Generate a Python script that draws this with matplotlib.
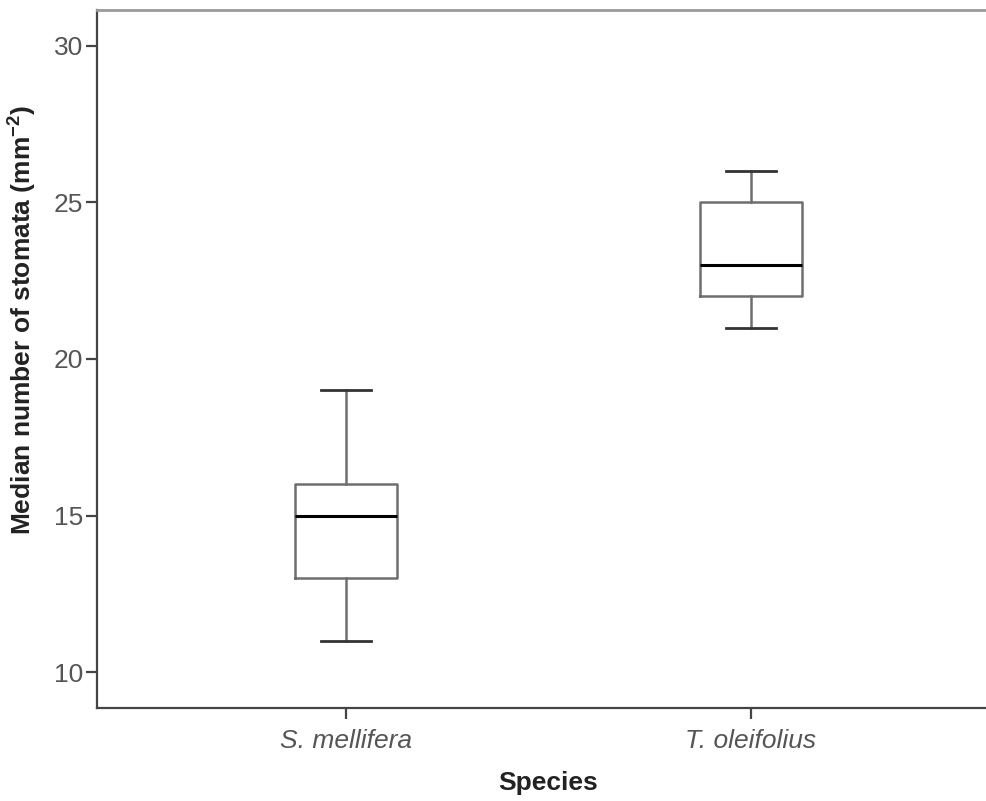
import matplotlib
matplotlib.use('Agg')
import matplotlib.pyplot as plt

# box plot summary values
species = ['S. mellifera', 'T. oleifolius']
whisker_low = [11, 21]
q1 = [13, 22]
median = [15, 23]
q3 = [16, 25]
whisker_high = [19, 26]

plt.rcParams['font.family'] = ['Liberation Sans', 'DejaVu Sans']
plt.rcParams['mathtext.fontset'] = 'custom'
plt.rcParams['mathtext.rm'] = 'Liberation Sans'
plt.rcParams['mathtext.bf'] = 'Liberation Sans:bold'

fig = plt.figure(figsize=(9.87, 8.01), dpi=100)
ax = fig.add_axes([97 / 987, 93 / 801, 1 - 97 / 987, (708 - 10) / 801])

stats = []
for i, name in enumerate(species):
    stats.append({'label': name, 'whislo': whisker_low[i], 'q1': q1[i], 'med': median[i],
                  'q3': q3[i], 'whishi': whisker_high[i], 'fliers': []})

box_col = '#6e6e6e'
ax.bxp(stats, positions=[0, 1], widths=0.25, showfliers=False,
       boxprops=dict(color=box_col, linewidth=1.8),
       whiskerprops=dict(color=box_col, linewidth=1.8),
       capprops=dict(color='#333333', linewidth=2.0),
       medianprops=dict(color='black', linewidth=2.2),
       capwidths=0.125)

ax.set_xlim(-0.615, 1.583)
ax.set_ylim(8.85, 31.15)
ax.set_yticks([10, 15, 20, 25, 30])
ax.set_xticks([0, 1])
ax.set_xticklabels(species, style='italic')

ax.spines['right'].set_visible(False)
ax.spines['top'].set_color('#9a9a9a')
ax.spines['top'].set_linewidth(2.0)
for s in ['left', 'bottom']:
    ax.spines[s].set_color('#444444')
    ax.spines[s].set_linewidth(1.6)

ax.tick_params(axis='both', colors='#444444', labelcolor='#555555', labelsize=19, width=1.6)
ax.tick_params(axis='y', length=8, pad=2)
ax.tick_params(axis='x', length=8, pad=7)

ax.set_xlabel('Species', fontsize=19, fontweight='bold', color='#222222')
ax.xaxis.set_label_coords(0.507, -0.09)
ax.set_ylabel(r'Median number of stomata (mm$^{\mathbf{-2}}$)', fontsize=19,
              fontweight='bold', color='#222222')
ax.yaxis.set_label_coords(-0.066, 0.556)

fig.savefig('out.png', dpi=100)
